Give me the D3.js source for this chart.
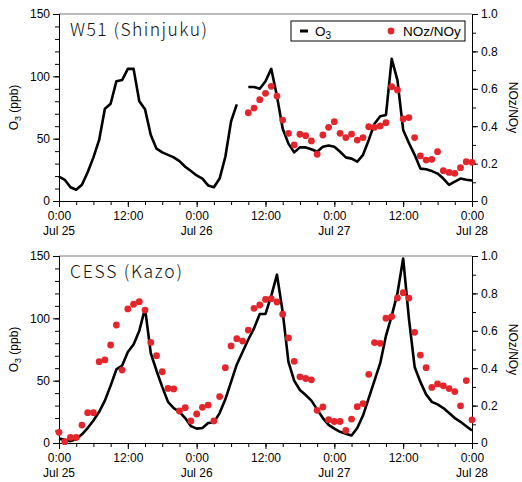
<!DOCTYPE html>
<html>
<head>
<meta charset="utf-8">
<script src="https://d3js.org/d3.v7.min.js"></script>
<style>
  body { margin: 0; background: #fff; }
</style>
</head>
<body>
<div id="chart"></div>
<script>
// hourly data, Jul 25 0:00 -> Jul 28 0:00
var hours = d3.range(0, 73);

var o3Shinjuku = [19.5, 17, 11, 9, 13, 23, 35, 49, 74, 78,
  96, 97, 106, 106, 80, 73.5, 53, 42, 39, 37,
  35, 32, 27.5, 24, 20.5, 18, 12.5, 11, 18, 35.5,
  64, 77.5, null, 91.5, 91.5, 90, 96, 106, 84, 58,
  46, 39, 43, 43, 41.5, 39.5, 43.5, 44.5, 43.5, 39.5,
  35, 34, 31.5, 37, 49, 62, 68, 69, 114, 97,
  57, 46.5, 37, 26, 25.5, 24, 22, 18, 13, 15.5,
  18, 17, 16.5];

var ratioShinjuku = [null, null, null, null, null, null, null, null, null, null,
  null, null, null, null, null, null, null, null, null, null,
  null, null, null, null, null, null, null, null, null, null,
  null, null, null, 0.472, 0.497, 0.542, 0.576, 0.613, 0.561, 0.433,
  0.362, 0.300, 0.357, 0.349, 0.321, 0.250, 0.353, 0.394, 0.424, 0.362,
  0.339, 0.358, 0.326, 0.339, 0.397, 0.394, 0.401, 0.419, 0.611, 0.594,
  0.439, 0.446, 0.339, 0.241, 0.219, 0.223, 0.264, 0.162, 0.153, 0.148,
  0.178, 0.210, 0.207];

var o3Kazo = [3.5, 2.5, 1.5, 3, 7, 12, 18, 25, 34, 46,
  59, 62, 73, 79, 90, 108, 72, 58, 45, 33,
  28, 25, 20, 13.5, 11.5, 12, 16, 16.5, 24, 35,
  49, 63, 73, 83, 92, 103.5, 103.5, 118, 135, 105,
  65, 50, 42.5, 38.5, 34, 27, 20, 14.5, 11.5, 9,
  7.5, 6, 12, 22, 36, 50, 64, 86, 102, 120,
  148, 100, 61, 49, 39, 33, 31, 28, 24, 20,
  17, 13.5, 10];

var ratioKazo = [0.057, 0.007, 0.030, 0.030, 0.096, 0.162, 0.162, 0.435, 0.444, 0.524,
  0.631, 0.390, 0.717, 0.742, 0.756, 0.711, 0.538, 0.467, 0.381, 0.292,
  0.289, 0.171, 0.189, 0.118, 0.155, 0.191, 0.203, 0.118, 0.248, 0.403,
  0.519, 0.558, 0.545, 0.604, 0.720, 0.738, 0.768, 0.772, 0.754, 0.689,
  0.562, 0.437, 0.354, 0.345, 0.338, 0.175, 0.193, 0.125, 0.115, 0.115,
  0.067, 0.128, 0.194, 0.211, 0.367, 0.537, 0.533, 0.667, 0.676, 0.776,
  0.804, 0.775, 0.592, 0.470, 0.403, 0.297, 0.316, 0.306, 0.291, 0.275,
  0.199, 0.334, 0.124];

var timeTicks = [0, 12, 24, 36, 48, 60, 72];
var timeLabels = ["0:00", "12:00", "0:00", "12:00", "0:00", "12:00", "0:00"];
var dayTicks = [0, 24, 48, 72];
var dayLabels = ["Jul 25", "Jul 26", "Jul 27", "Jul 28"];
var o3Ticks = [0, 50, 100, 150];
var ratioTicks = [0, 0.2, 0.4, 0.6, 0.8, 1.0];

var svgWidth = 522;
var svgHeight = 482;
var margin = { left: 59 };
var width = 413;
var height = 187;
var red = "#e4262c";
var font = "'Liberation Sans', Arial, sans-serif";

var svg = d3.select("#chart")
  .append("svg")
  .attr("width", svgWidth)
  .attr("height", svgHeight);

var x = d3.scaleLinear().domain([0, 72]).range([0, width]);
var yO3 = d3.scaleLinear().domain([0, 150]).range([height, 0]);
var yRatio = d3.scaleLinear().domain([0, 1]).range([height, 0]);

function styleAxis(g) {
  g.attr("font-family", font).attr("font-size", 12);
  g.selectAll("text").attr("fill", "#000");
  g.selectAll("line").attr("stroke", "#000");
  g.select(".domain").attr("stroke", "#000");
}

function drawPanel(top, title, titleWidth, o3, ratio, withLegend) {
  var g = svg.append("g")
    .attr("transform", `translate(${margin.left}, ${top})`);

  // top frame line
  g.append("line")
    .attr("x1", 0).attr("x2", width)
    .attr("y1", 0).attr("y2", 0)
    .attr("stroke", "#7a7a7a");

  // minor ticks
  g.append("g")
    .attr("transform", `translate(0, ${height})`)
    .call(d3.axisBottom(x).tickValues(d3.range(0, 73, 3)).tickSize(4).tickFormat(""))
    .call(styleAxis);
  g.append("g")
    .call(d3.axisLeft(yO3).tickValues(d3.range(0, 151, 10)).tickSize(4).tickFormat(""))
    .call(styleAxis);
  g.append("g")
    .attr("transform", `translate(${width}, 0)`)
    .call(d3.axisRight(yRatio).tickValues(d3.range(0, 1.01, 0.1)).tickSize(4).tickFormat(""))
    .call(styleAxis);

  // major axes
  g.append("g")
    .attr("transform", `translate(0, ${height})`)
    .call(d3.axisBottom(x).tickValues(timeTicks).tickSize(6).tickSizeOuter(0).tickPadding(4)
      .tickFormat((d, i) => timeLabels[i]))
    .call(styleAxis);
  g.append("g")
    .call(d3.axisLeft(yO3).tickValues(o3Ticks).tickSize(6).tickSizeOuter(0).tickPadding(3))
    .call(styleAxis);
  g.append("g")
    .attr("transform", `translate(${width}, 0)`)
    .call(d3.axisRight(yRatio).tickValues(ratioTicks).tickSize(6).tickSizeOuter(0).tickPadding(3)
      .tickFormat(d => d === 0 ? "0" : d3.format(".1f")(d)))
    .call(styleAxis);

  // date labels under 0:00
  g.selectAll(".day")
    .data(dayTicks)
    .enter()
    .append("text")
    .attr("x", d => x(d))
    .attr("y", height + 34)
    .attr("text-anchor", "middle")
    .attr("font-family", font)
    .attr("font-size", 12)
    .text((d, i) => dayLabels[i]);

  // axis titles
  var yl = g.append("text")
    .attr("transform", `translate(${-41}, ${height / 2}) rotate(-90)`)
    .attr("text-anchor", "middle")
    .attr("font-family", font)
    .attr("font-size", 12);
  yl.append("tspan").text("O");
  yl.append("tspan").attr("font-size", 9).attr("dy", 3).text("3");
  yl.append("tspan").attr("dy", -3).text(" (ppb)");

  g.append("text")
    .attr("transform", `translate(${width + 37}, ${height / 2}) rotate(90)`)
    .attr("text-anchor", "middle")
    .attr("font-family", font)
    .attr("font-size", 12)
    .text("NOz/NOy");

  // panel title
  g.append("text")
    .attr("x", 11)
    .attr("y", 21.5)
    .attr("font-family", "'Noto Sans CJK JP', sans-serif")
    .attr("font-weight", 300)
    .attr("font-size", 17.5)
    .attr("fill", "#111")
    .attr("textLength", titleWidth)
    .attr("lengthAdjust", "spacing")
    .text(title);

  // O3 line
  var pts = hours.map((h, i) => ({ h: h, v: o3[i] }));
  var line = d3.line()
    .defined(d => d.v != null)
    .x(d => x(d.h))
    .y(d => yO3(d.v));
  g.append("path")
    .datum(pts)
    .attr("fill", "none")
    .attr("stroke", "#000")
    .attr("stroke-width", 2.6)
    .attr("stroke-linejoin", "round")
    .attr("d", line);

  // NOz/NOy dots
  var dots = hours.map((h, i) => ({ h: h, v: ratio[i] })).filter(d => d.v != null);
  g.selectAll(".dot")
    .data(dots)
    .enter()
    .append("circle")
    .attr("cx", d => x(d.h))
    .attr("cy", d => yRatio(d.v))
    .attr("r", 3.4)
    .attr("fill", red);

  if (withLegend) {
    var lg = g.append("g").attr("transform", `translate(${291 - margin.left}, ${21 - top})`);
    lg.append("rect")
      .attr("width", 174).attr("height", 20)
      .attr("fill", "#fff").attr("stroke", "#000").attr("stroke-width", 1);
    lg.append("line")
      .attr("x1", 9).attr("x2", 17).attr("y1", 10).attr("y2", 10)
      .attr("stroke", "#000").attr("stroke-width", 3);
    var lt = lg.append("text")
      .attr("x", 24).attr("y", 15)
      .attr("font-family", font).attr("font-size", 13.5);
    lt.append("tspan").text("O");
    lt.append("tspan").attr("font-size", 10).attr("dy", 3).text("3");
    lg.append("circle")
      .attr("cx", 100).attr("cy", 10).attr("r", 3.4).attr("fill", red);
    lg.append("text")
      .attr("x", 112).attr("y", 15)
      .attr("font-family", font).attr("font-size", 13.5)
      .text("NOz/NOy");
  }
}

drawPanel(14, "W51 (Shinjuku)", 137, o3Shinjuku, ratioShinjuku, true);
drawPanel(256, "CESS (Kazo)", 112, o3Kazo, ratioKazo, false);
</script>
</body>
</html>
